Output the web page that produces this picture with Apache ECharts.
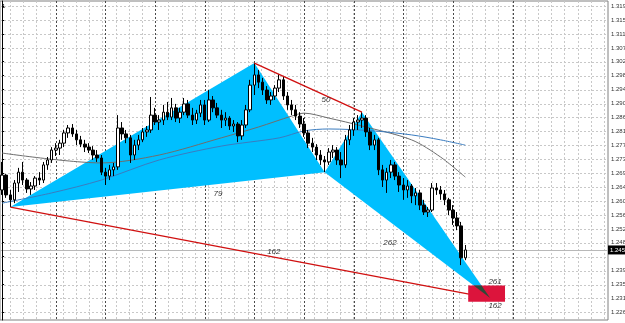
<!DOCTYPE html>
<html><head><meta charset="utf-8">
<script src="https://cdn.jsdelivr.net/npm/echarts@6/dist/echarts.min.js"></script>
<style>html,body{margin:0;padding:0;background:#fff}#c{width:625px;height:323px}</style>
</head><body><div id="c"></div><script>
// ---- data ----
const opens = [1.2640,1.2685,1.2625,1.2610,1.2661,1.2694,1.2670,1.2643,1.2652,1.2676,1.2670,1.2716,1.2731,1.2761,1.2767,1.2782,1.2813,1.2828,1.2810,1.2792,1.2779,1.2770,1.2761,1.2746,1.2737,1.2694,1.2682,1.2701,1.2710,1.2828,1.2810,1.2798,1.2746,1.2776,1.2792,1.2816,1.2822,1.2867,1.2846,1.2852,1.2876,1.2861,1.2889,1.2858,1.2876,1.2901,1.2867,1.2852,1.2873,1.2898,1.2852,1.2913,1.2889,1.2867,1.2852,1.2858,1.2834,1.2840,1.2804,1.2837,1.2883,1.2958,1.2989,1.2967,1.2943,1.2913,1.2925,1.2949,1.2974,1.2925,1.2898,1.2883,1.2864,1.2840,1.2813,1.2782,1.2770,1.2746,1.2731,1.2725,1.2755,1.2761,1.2731,1.2716,1.2792,1.2822,1.2846,1.2852,1.2858,1.2816,1.2776,1.2792,1.2701,1.2670,1.2694,1.2716,1.2682,1.2655,1.2640,1.2652,1.2622,1.2631,1.2594,1.2573,1.2579,1.2646,1.2640,1.2628,1.2610,1.2579,1.2555,1.2531,1.2434];
const closes = [1.2685,1.2625,1.2610,1.2661,1.2694,1.2670,1.2643,1.2652,1.2676,1.2670,1.2716,1.2731,1.2761,1.2767,1.2782,1.2813,1.2828,1.2810,1.2792,1.2779,1.2770,1.2761,1.2746,1.2737,1.2694,1.2682,1.2701,1.2710,1.2828,1.2810,1.2798,1.2746,1.2776,1.2792,1.2816,1.2822,1.2867,1.2846,1.2852,1.2876,1.2861,1.2889,1.2858,1.2876,1.2901,1.2867,1.2852,1.2873,1.2898,1.2852,1.2913,1.2889,1.2867,1.2852,1.2858,1.2834,1.2840,1.2804,1.2837,1.2883,1.2958,1.2989,1.2967,1.2943,1.2913,1.2925,1.2949,1.2974,1.2925,1.2898,1.2883,1.2864,1.2840,1.2813,1.2782,1.2770,1.2746,1.2731,1.2725,1.2755,1.2761,1.2731,1.2716,1.2792,1.2822,1.2846,1.2852,1.2858,1.2816,1.2776,1.2792,1.2701,1.2670,1.2694,1.2716,1.2682,1.2655,1.2640,1.2652,1.2622,1.2631,1.2594,1.2573,1.2579,1.2646,1.2640,1.2628,1.2610,1.2579,1.2555,1.2531,1.2434,1.2458];
const lows = [1.2625,1.2616,1.2588,1.2600,1.2634,1.2655,1.2631,1.2625,1.2640,1.2655,1.2661,1.2701,1.2722,1.2743,1.2746,1.2770,1.2798,1.2801,1.2776,1.2770,1.2755,1.2752,1.2731,1.2725,1.2685,1.2655,1.2670,1.2682,1.2701,1.2792,1.2782,1.2722,1.2731,1.2761,1.2785,1.2801,1.2813,1.2837,1.2822,1.2837,1.2852,1.2852,1.2846,1.2843,1.2867,1.2858,1.2837,1.2840,1.2861,1.2837,1.2846,1.2876,1.2858,1.2828,1.2834,1.2822,1.2816,1.2785,1.2792,1.2828,1.2876,1.2928,1.2949,1.2928,1.2901,1.2898,1.2913,1.2937,1.2913,1.2883,1.2867,1.2852,1.2828,1.2801,1.2767,1.2755,1.2731,1.2716,1.2694,1.2716,1.2737,1.2716,1.2676,1.2707,1.2776,1.2804,1.2822,1.2828,1.2801,1.2761,1.2761,1.2685,1.2649,1.2631,1.2676,1.2670,1.2634,1.2610,1.2616,1.2600,1.2594,1.2579,1.2564,1.2558,1.2573,1.2625,1.2610,1.2594,1.2564,1.2534,1.2518,1.2412,1.2427];
const highs = [1.2725,1.2688,1.2640,1.2670,1.2707,1.2725,1.2676,1.2664,1.2682,1.2694,1.2725,1.2740,1.2770,1.2782,1.2792,1.2822,1.2837,1.2840,1.2822,1.2804,1.2792,1.2782,1.2773,1.2761,1.2746,1.2707,1.2716,1.2722,1.2867,1.2846,1.2822,1.2807,1.2792,1.2807,1.2828,1.2834,1.2922,1.2889,1.2867,1.2898,1.2907,1.2919,1.2901,1.2889,1.2919,1.2913,1.2889,1.2883,1.2913,1.2913,1.2943,1.2925,1.2904,1.2883,1.2876,1.2864,1.2852,1.2846,1.2852,1.2898,1.2974,1.3025,1.3004,1.2980,1.2955,1.2937,1.2958,1.2992,1.2986,1.2937,1.2913,1.2898,1.2876,1.2858,1.2822,1.2798,1.2779,1.2761,1.2743,1.2767,1.2776,1.2770,1.2755,1.2807,1.2837,1.2858,1.2867,1.2876,1.2867,1.2828,1.2807,1.2798,1.2716,1.2707,1.2731,1.2725,1.2694,1.2676,1.2670,1.2658,1.2646,1.2640,1.2610,1.2588,1.2661,1.2661,1.2652,1.2640,1.2616,1.2594,1.2573,1.2543,1.2473];
const priceTicks = ['1.31980','1.31560','1.31130','1.30710','1.30290','1.29870','1.29440','1.29020','1.28600','1.28180','1.27750','1.27330','1.26910','1.26490','1.26060','1.25640','1.25220','1.24800','1.24380','1.23950','1.23530','1.23110','1.22690'];
const maGrey = [[0,1.2752],[24,1.2722],[38,1.2746],[53,1.2798],[62,1.2831],[70,1.2864],[73,1.2873],[79,1.2858],[87,1.2834],[99,1.2792],[106,1.2740],[112,1.2679]];
const maBlue = [[0,1.2600],[12,1.2631],[24,1.2670],[38,1.2731],[53,1.2773],[67,1.2798],[73,1.2819],[79,1.2825],[90,1.2819],[99,1.2807],[106,1.2792],[112,1.2776]];
// harmonic pattern points X, A, B, C, D
const patternX = [2, 61, 78, 87, 118];
const patternP = [1.2588, 1.3025, 1.2694, 1.2876, 1.2312];
const targetX = [112.7, 121.6];
const targetP = [1.2301, 1.2350];
const ratioLabels = ['79', '50', '262', '162', '261', '162'];
const ratioX = [52.2, 78.3, 93.8, 65.7, 119.2, 119.2];
const ratioP = [1.2628, 1.2913, 1.2479, 1.2452, 1.2361, 1.2288];
const separatorX = [13, 25, 37, 49, 61, 73, 85, 97, 109, 123.5];

// ---- chart ----
const N = 147;
const cats = Array.from({length: N}, (_, i) => String(i));
const candleData = opens.map((o, i) => [o, closes[i], lows[i], highs[i]]);
const tickVals = priceTicks.map(Number);
const lastClose = closes[closes.length - 1];

function gridRender(params, api) {
  const cs = params.coordSys;
  const ch = [];
  tickVals.forEach(v => {
    const y = Math.round(api.coord([0, v])[1]) + 0.5;
    ch.push({type: 'line', shape: {x1: cs.x, y1: y, x2: cs.x + cs.width, y2: y},
      style: {stroke: '#c8c8c8', lineWidth: 1, lineDash: [2, 2]}});
  });
  for (let x = cs.x + 10; x < cs.x + cs.width; x += 13.2) {
    const xx = Math.round(x) + 0.5;
    ch.push({type: 'line', shape: {x1: xx, y1: cs.y, x2: xx, y2: cs.y + cs.height},
      style: {stroke: '#c8c8c8', lineWidth: 1, lineDash: [2, 2]}});
  }
  separatorX.forEach(v => {
    const xx = Math.round(api.coord([v, 1.27])[0]) + 0.5;
    ch.push({type: 'line', shape: {x1: xx, y1: cs.y, x2: xx, y2: cs.y + cs.height},
      style: {stroke: '#4a4a4a', lineWidth: 1, lineDash: [2, 2]}});
  });
  // bid line
  const yb = Math.round(api.coord([0, lastClose])[1]) + 0.5;
  ch.push({type: 'line', shape: {x1: cs.x, y1: yb, x2: cs.x + cs.width, y2: yb},
    style: {stroke: '#b8b8b8', lineWidth: 1}});
  return {type: 'group', children: ch};
}

function priceBoxRender(params, api) {
  const cs = params.coordSys;
  const y = api.coord([0, lastClose])[1];
  return {type: 'group', children: [
    {type: 'rect', shape: {x: cs.x + cs.width, y: y - 4.5, width: 20, height: 9}, style: {fill: '#000'}},
    {type: 'text', x: cs.x + cs.width + 2, y: y, style: {text: lastClose.toFixed(5), fill: '#fff',
      font: '6px "Liberation Sans", Arial, sans-serif', align: 'left', verticalAlign: 'middle'}}
  ]};
}

const tris = [[0, 1, 2], [2, 3, 4]];
function triRender(params, api) {
  const pts = tris[params.dataIndex].map(k => api.coord([patternX[k], patternP[k]]));
  return {type: 'polygon', shape: {points: pts}, style: {fill: '#00BFFF'}};
}

function boxRender(params, api) {
  const p1 = api.coord([targetX[0], targetP[1]]);
  const p2 = api.coord([targetX[1], targetP[0]]);
  const top = targetP[1];
  const D = [patternX[4], patternP[4]];
  const cut = k => {
    const t = (top - patternP[k]) / (patternP[4] - patternP[k]);
    return [patternX[k] + t * (patternX[4] - patternX[k]), top];
  };
  const ov = [cut(3), cut(2), D].map(p => api.coord(p));
  return {type: 'group', children: [
    {type: 'rect', shape: {x: p1[0], y: p1[1], width: p2[0] - p1[0], height: p2[1] - p1[1]}, style: {fill: '#DC143C'}},
    {type: 'polygon', shape: {points: ov}, style: {fill: '#2E4A38'}}
  ]};
}

function textRender(params, api) {
  const i = params.dataIndex;
  const p = api.coord([ratioX[i], ratioP[i]]);
  return {type: 'text', x: p[0], y: p[1],
    style: {text: ratioLabels[i], fill: '#333', font: 'italic 8px "Liberation Sans", Arial, sans-serif', align: 'center', verticalAlign: 'middle'}};
}

const chart = echarts.init(document.getElementById('c'), null, {renderer: 'canvas'});
chart.setOption({
  animation: false,
  backgroundColor: '#fff',
  grid: {left: 0, right: 17, top: 1, bottom: 3, show: true, borderColor: '#808080', borderWidth: 1,
    containLabel: false, outerBoundsMode: 'none'},
  graphic: [{type: 'text', left: 2, top: 3, style: {text: '1', fontSize: 6, fill: '#000'}}],
  xAxis: [
    {type: 'category', data: cats, boundaryGap: true, show: false},
    {type: 'value', min: -0.5, max: N - 0.5, show: false}
  ],
  yAxis: {
    type: 'value', position: 'right', min: 1.22455, max: 1.32132, scale: true,
    axisLine: {show: true, lineStyle: {color: '#000', width: 1}},
    axisTick: {show: true, customValues: tickVals, length: 2, lineStyle: {color: '#000'}},
    axisLabel: {customValues: tickVals, fontSize: 6, color: '#333', margin: 3,
      fontFamily: '"Liberation Sans", Arial, sans-serif',
      formatter: v => {
        if (Math.abs(v - lastClose) < 0.0021) return '';
        const i = tickVals.findIndex(t => Math.abs(t - v) < 1e-6);
        return i >= 0 ? priceTicks[i] : '';
      }},
    splitLine: {show: false}
  },
  series: [
    {type: 'custom', xAxisIndex: 1, renderItem: gridRender, data: [[0, 1.27]], z: 0, silent: true},
    {type: 'custom', xAxisIndex: 1, renderItem: triRender, data: [[patternX[1], patternP[1]], [patternX[3], patternP[3]]], z: 1, silent: true},
    {type: 'line', xAxisIndex: 1, data: maGrey, smooth: 0.3, showSymbol: false, symbol: 'none', lineStyle: {color: '#6e6e6e', width: 1}, z: 2, silent: true},
    {type: 'line', xAxisIndex: 1, data: maBlue, smooth: 0.3, showSymbol: false, symbol: 'none', lineStyle: {color: '#3a7cc0', width: 1}, z: 2, silent: true},
    {type: 'candlestick', xAxisIndex: 0, data: candleData, barWidth: 3, z: 3,
      itemStyle: {color: '#ffffff', color0: '#000000', borderColor: '#000000', borderColor0: '#000000', borderWidth: 1}},
    {type: 'line', xAxisIndex: 1, data: [[patternX[0], patternP[0]], [patternX[4], patternP[4]]], symbol: 'none', lineStyle: {color: '#D01010', width: 1.3}, z: 4, silent: true},
    {type: 'line', xAxisIndex: 1, data: [[patternX[1], patternP[1]], [patternX[3], patternP[3]]], symbol: 'none', lineStyle: {color: '#D01010', width: 1.3}, z: 4, silent: true},
    {type: 'custom', xAxisIndex: 1, renderItem: boxRender, data: [[targetX[0], targetP[0]]], z: 5, silent: true},
    {type: 'custom', xAxisIndex: 1, renderItem: textRender, data: ratioX.map((x, i) => [x, ratioP[i]]), z: 6, silent: true},
    {type: 'custom', xAxisIndex: 1, renderItem: priceBoxRender, data: [[0, lastClose]], z: 10, silent: true, clip: false}
  ]
});
</script></body></html>
